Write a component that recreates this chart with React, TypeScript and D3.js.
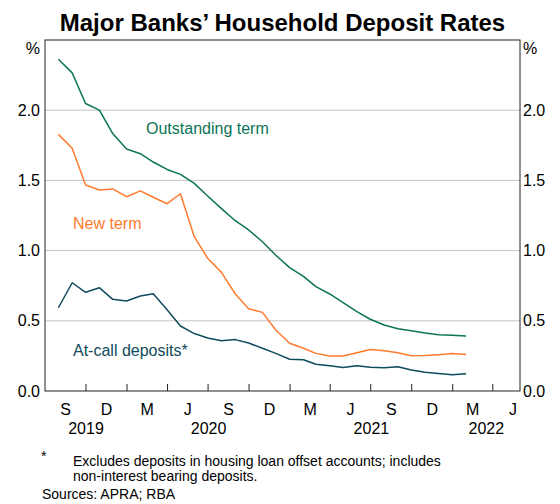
import React from "react";
import * as d3 from "d3";

// Monthly data, end of month, Jul 2019 – Jan 2022
const startMonth = [2019, 6]; // July 2019 (0-based month)
const outstandingTerm = [2.363, 2.266, 2.048, 2.0, 1.834, 1.724, 1.69, 1.631, 1.578, 1.543, 1.479, 1.389, 1.299, 1.213, 1.147, 1.063, 0.967, 0.879, 0.816, 0.743, 0.691, 0.629, 0.565, 0.511, 0.47, 0.444, 0.429, 0.413, 0.401, 0.397, 0.392];
const newTerm = [1.828, 1.729, 1.467, 1.432, 1.439, 1.384, 1.425, 1.38, 1.334, 1.405, 1.099, 0.945, 0.845, 0.691, 0.586, 0.56, 0.434, 0.34, 0.304, 0.268, 0.25, 0.249, 0.273, 0.295, 0.286, 0.272, 0.251, 0.253, 0.259, 0.267, 0.26];
const atCall = [0.593, 0.771, 0.703, 0.736, 0.653, 0.641, 0.677, 0.693, 0.578, 0.463, 0.409, 0.378, 0.358, 0.366, 0.342, 0.304, 0.268, 0.226, 0.223, 0.19, 0.18, 0.168, 0.18, 0.169, 0.165, 0.172, 0.149, 0.134, 0.125, 0.115, 0.123];

const yTicks = [0, 0.5, 1.0, 1.5, 2.0];
const quarterLetters = ["M", "J", "S", "D"]; // by quarter index Jan, Apr, Jul, Oct
const years = [2019, 2020, 2021, 2022];

const title = "Major Banks’ Household Deposit Rates";
const seriesLabels = ["Outstanding term", "New term", "At-call deposits*"];
const footnote1 = "Excludes deposits in housing loan offset accounts; includes";
const footnote2 = "non-interest bearing deposits.";
const sources = "Sources: APRA; RBA";

const colors = { outstanding: "#0b7457", newTerm: "#ff7b2e", atCall: "#0e4b5b" };

const W = 560, H = 504;
const L = 45, R = 520, T = 40, B = 391;
const font = "Arial, 'Liberation Sans', Helvetica, sans-serif";

export default function App() {
  const domainStart = new Date(2019, 6, 1);
  const domainEnd = new Date(2022, 5, 1);
  const x = d3.scaleTime().domain([domainStart, domainEnd]).range([L, R]);
  const y = d3.scaleLinear().domain([0, 2.5]).range([B, T]);

  const dates = outstandingTerm.map((_, i) => new Date(startMonth[0], startMonth[1] + i + 1, 0));
  const line = d3
    .line<number>()
    .x((_, i) => x(dates[i]))
    .y((v) => y(v));

  const quarterStarts = d3.timeMonth.every(3)!.range(domainStart, domainEnd);
  const tickDates = quarterStarts.filter((d) => +d > +domainStart);

  const quarterLabels = quarterStarts.map((qs) => {
    const qe = d3.timeMonth.offset(qs, 3);
    const mid = new Date((+qs + +qe) / 2);
    return { x: x(mid), text: quarterLetters[Math.floor(qs.getMonth() / 3)] };
  });

  const yearLabels = years.map((yr) => {
    const s = new Date(Math.max(+new Date(yr, 0, 1), +domainStart));
    const e = new Date(Math.min(+new Date(yr + 1, 0, 1), +domainEnd));
    return { x: x(new Date((+s + +e) / 2)), text: String(yr) };
  });

  return (
    <svg width={W} height={H} style={{ display: "block", position: "absolute", left: 0, top: 0 }} fontFamily={font}>
      <rect width={W} height={H} fill="#fff" />
      <text x={(L + R) / 2} y={31} textAnchor="middle" fontSize={24} fontWeight="bold" fill="#000">
        {title}
      </text>
      {yTicks.filter((v) => v > 0).map((v) => (
        <line key={v} x1={L} x2={R} y1={y(v)} y2={y(v)} stroke="#c3c3c3" strokeWidth={1} />
      ))}
      {tickDates.map((d) => (
        <line key={+d} x1={x(d)} x2={x(d)} y1={B} y2={B - 7} stroke="#222" strokeWidth={1} />
      ))}
      <rect x={L} y={T} width={R - L} height={B - T} fill="none" stroke="#222" strokeWidth={1} />
      {yTicks.map((v) => (
        <g key={v} fontSize={16} fill="#000">
          <text x={40} y={y(v)} dy="0.35em" textAnchor="end">{v.toFixed(1)}</text>
          <text x={523} y={y(v)} dy="0.35em" textAnchor="start">{v.toFixed(1)}</text>
        </g>
      ))}
      <text x={40} y={54} textAnchor="end" fontSize={16}>%</text>
      <text x={523} y={54} textAnchor="start" fontSize={16}>%</text>
      {quarterLabels.map((q, i) => (
        <text key={i} x={q.x} y={415} textAnchor="middle" fontSize={16}>{q.text}</text>
      ))}
      {yearLabels.map((q, i) => (
        <text key={i} x={q.x} y={434} textAnchor="middle" fontSize={16}>{q.text}</text>
      ))}
      <path d={line(outstandingTerm) || ""} fill="none" stroke={colors.outstanding} strokeWidth={1.5} strokeLinejoin="round" />
      <path d={line(newTerm) || ""} fill="none" stroke={colors.newTerm} strokeWidth={1.5} strokeLinejoin="round" />
      <path d={line(atCall) || ""} fill="none" stroke={colors.atCall} strokeWidth={1.5} strokeLinejoin="round" />
      <text x={146} y={134} fontSize={16} fill={colors.outstanding}>{seriesLabels[0]}</text>
      <text x={73} y={229} fontSize={16} fill={colors.newTerm}>{seriesLabels[1]}</text>
      <text x={73} y={356} fontSize={16} fill={colors.atCall}>{seriesLabels[2]}</text>
      <text x={41} y={461} fontSize={14}>*</text>
      <text x={73} y={466} fontSize={14}>{footnote1}</text>
      <text x={73} y={481} fontSize={14}>{footnote2}</text>
      <text x={42} y={499} fontSize={14}>{sources}</text>
    </svg>
  );
}
